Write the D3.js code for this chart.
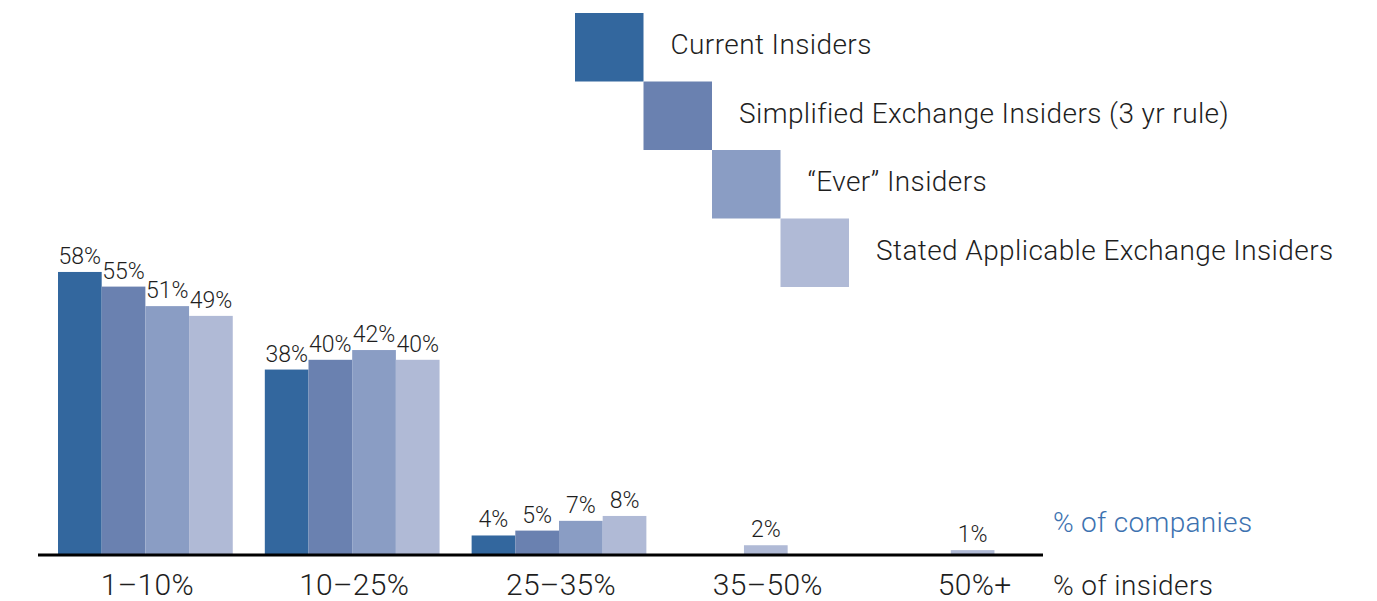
<html>
<head>
<meta charset="utf-8">
<style>
body { margin: 0; background: #fff; }
svg text { font-family: Roboto, "Liberation Sans", sans-serif; font-weight: 300; fill: #1e1e1e; }
</style>
</head>
<body>
<div id="chart"></div>
<script src="https://d3js.org/d3.v7.min.js"></script>
<script type="text/javascript">
// data
var categories = ["1–10%", "10–25%", "25–35%", "35–50%", "50%+"];
var seriesNames = ["Current Insiders", "Simplified Exchange Insiders (3 yr rule)", "“Ever” Insiders", "Stated Applicable Exchange Insiders"];
var current    = [58, 38, 4, null, null];
var simplified = [55, 40, 5, null, null];
var ever       = [51, 42, 7, null, null];
var stated     = [49, 40, 8, 2, 1];
var colors = ["#33679e", "#6a81b0", "#8a9dc4", "#b0bad6"];

var values = [current, simplified, ever, stated];

var width = 1377, height = 601;
var baseY = 555;

var svg = d3.select("#chart")
	.append("svg")
	.attr("width", width)
	.attr("height", height);

// x: one band per category, y: percent of companies
var x = d3.scaleBand()
	.domain(categories)
	.range([58, 1060])
	.paddingInner(0.155);

var y = d3.scaleLinear()
	.domain([0, 100])
	.range([baseY, baseY - 488]);

var barW = x.bandwidth() / seriesNames.length;

// rows: one per category, with the bars that have a value
var groups = categories.map(function(c, i){
	var bars = [];
	seriesNames.forEach(function(s, j){
		if (values[j][i] != null) bars.push({series: s, idx: j, value: values[j][i]});
	});
	var mid = x(c) + x.bandwidth() / 2;
	var inner = d3.scaleBand()
		.domain(bars.map(function(b){ return b.series; }))
		.range([mid - bars.length * barW / 2, mid + bars.length * barW / 2]);
	bars.forEach(function(b){ b.x = inner(b.series); b.w = inner.bandwidth(); });
	return {cat: c, bars: bars};
});

var g = svg.selectAll("g.grp")
	.data(groups)
	.enter()
	.append("g")
	.attr("class", "grp");

g.selectAll("rect")
	.data(function(d){ return d.bars; })
	.enter()
	.append("rect")
	.attr("x", function(d){ return d.x; })
	.attr("width", function(d){ return d.w; })
	.attr("y", function(d){ return y(d.value); })
	.attr("height", function(d){ return baseY - y(d.value); })
	.style("fill", function(d){ return colors[d.idx]; });

g.selectAll("text.val")
	.data(function(d){ return d.bars; })
	.enter()
	.append("text")
	.attr("class", "val")
	.attr("x", function(d){ return d.x + d.w / 2; })
	.attr("y", function(d){ return y(d.value) - 8; })
	.attr("text-anchor", "middle")
	.style("font-size", "23px")
	.text(function(d){ return d.value + "%"; });

// baseline
svg.append("line")
	.attr("x1", 38)
	.attr("x2", 1043)
	.attr("y1", baseY)
	.attr("y2", baseY)
	.style("stroke", "#000")
	.style("stroke-width", 3);

// category labels
svg.selectAll("text.cat")
	.data(categories)
	.enter()
	.append("text")
	.attr("class", "cat")
	.attr("x", function(d){ return x(d) + x.bandwidth() / 2 + 2; })
	.attr("y", 595)
	.attr("text-anchor", "middle")
	.style("font-size", "30px")
	.style("letter-spacing", "0.3px")
	.text(function(d){ return d; });

// axis titles
svg.append("text")
	.attr("x", 1053)
	.attr("y", 532)
	.style("font-size", "28px")
	.style("letter-spacing", "0.3px")
	.style("fill", "#3d72b0")
	.text("% of companies");

svg.append("text")
	.attr("x", 1053)
	.attr("y", 595)
	.style("font-size", "28px")
	.style("letter-spacing", "0.4px")
	.text("% of insiders");

// stair-step legend
var legSize = 68.5;
var leg = svg.selectAll("g.leg")
	.data(seriesNames)
	.enter()
	.append("g")
	.attr("class", "leg")
	.attr("transform", function(d, i){ return "translate(" + (575 + i * legSize) + "," + (13 + i * legSize) + ")"; });

leg.append("rect")
	.attr("width", legSize)
	.attr("height", legSize)
	.style("fill", function(d, i){ return colors[i]; });

leg.append("text")
	.attr("x", legSize + 27)
	.attr("y", 41)
	.style("font-size", "28px")
	.style("letter-spacing", "0.4px")
	.text(function(d){ return d; });
</script>
</body>
</html>
